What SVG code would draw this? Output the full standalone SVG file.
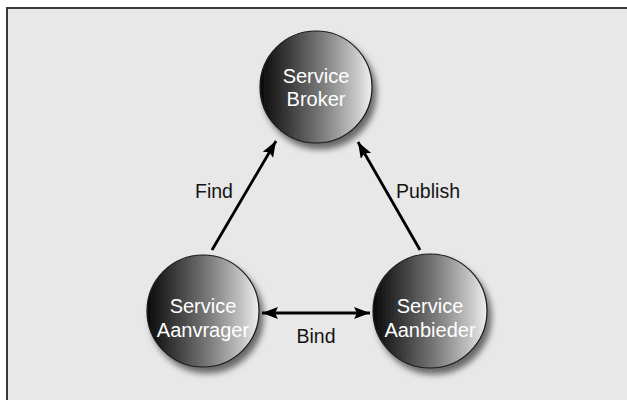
<svg xmlns="http://www.w3.org/2000/svg" width="627" height="400" viewBox="0 0 627 400">
  <defs>
    <linearGradient id="sphere" x1="0" y1="0" x2="1" y2="0">
      <stop offset="0" stop-color="#0a0a0a"/>
      <stop offset="0.25" stop-color="#3a3a3a"/>
      <stop offset="0.55" stop-color="#7a7a7a"/>
      <stop offset="0.85" stop-color="#c4c4c4"/>
      <stop offset="1" stop-color="#efefef"/>
    </linearGradient>
    <filter id="drop" x="-30%" y="-30%" width="170%" height="170%">
      <feGaussianBlur in="SourceAlpha" stdDeviation="3"/>
      <feOffset dx="4" dy="6" result="b"/>
      <feFlood flood-color="#000" flood-opacity="0.55"/>
      <feComposite in2="b" operator="in"/>
      <feMerge>
        <feMergeNode/>
        <feMergeNode in="SourceGraphic"/>
      </feMerge>
    </filter>
    <marker id="head" markerUnits="userSpaceOnUse" markerWidth="18" markerHeight="14" refX="16" refY="6" orient="auto-start-reverse">
      <path d="M0,0 L16,6 L0,12 L3,6 z" fill="#000"/>
    </marker>
    <style>
      .node { fill: url(#sphere); stroke: #1a1a1a; stroke-width: 1.2; filter: url(#drop); }
      .ntext { font-family: "Liberation Sans", Arial, sans-serif; font-size: 20px; fill: #ffffff; text-anchor: middle; }
      .ltext { font-family: "Liberation Sans", Arial, sans-serif; font-size: 19.5px; fill: #141414; text-anchor: middle; }
      .edge { stroke: #000; stroke-width: 2.8; fill: none; }
    </style>
  </defs>

  <!-- page and panel -->
  <rect x="0" y="0" width="627" height="400" fill="#ffffff"/>
  <rect x="7" y="8" width="640" height="420" fill="#e8e8e8" stroke="#3a3a3a" stroke-width="2"/>

  <!-- connectors -->
  <g id="connectors">
    <line class="edge" x1="212" y1="250" x2="276" y2="141" marker-end="url(#head)"/>
    <line class="edge" x1="420" y1="250" x2="358" y2="142" marker-end="url(#head)"/>
    <line class="edge" x1="262" y1="313" x2="370" y2="313" marker-start="url(#head)" marker-end="url(#head)"/>
    <text class="ltext" x="214" y="198">Find</text>
    <text class="ltext" x="428" y="198">Publish</text>
    <text class="ltext" x="316" y="343">Bind</text>
  </g>

  <!-- nodes -->
  <g id="broker">
    <circle class="node" cx="316" cy="87" r="56"/>
    <text class="ntext" x="316" y="83">Service</text>
    <text class="ntext" x="316" y="106">Broker</text>
  </g>
  <g id="aanvrager">
    <circle class="node" cx="203" cy="311" r="56"/>
    <text class="ntext" x="203" y="313">Service</text>
    <text class="ntext" x="203" y="337">Aanvrager</text>
  </g>
  <g id="aanbieder">
    <circle class="node" cx="430" cy="311" r="57"/>
    <text class="ntext" x="430" y="313">Service</text>
    <text class="ntext" x="430" y="337">Aanbieder</text>
  </g>
</svg>
